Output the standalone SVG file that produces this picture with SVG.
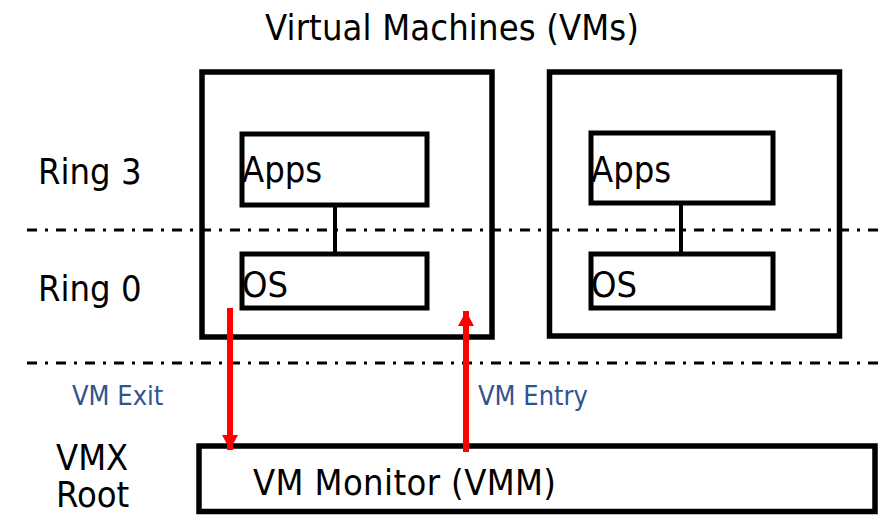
<svg xmlns="http://www.w3.org/2000/svg" width="879" height="515" viewBox="0 0 879 515">
  <style>
    .box { fill: #ffffff; stroke: #000000; stroke-width: 5.5; }
    .inner { fill: #ffffff; stroke: #000000; stroke-width: 5; }
    .ring { fill: none; stroke: #000000; stroke-width: 3; stroke-dasharray: 10 8 3 8; }
    .link { stroke: #000000; stroke-width: 4; }
    .flow { stroke: #ff0000; stroke-width: 6; fill: none; }
    .t { font-family: "DejaVu Sans Condensed", "DejaVu Sans", sans-serif; font-size: 36px; fill: #000000; }
    .lbl { font-family: "DejaVu Sans Condensed", "DejaVu Sans", sans-serif; font-size: 27px; fill: #2f5491; }
  </style>
  <defs>
    <marker id="redHead" markerUnits="userSpaceOnUse" markerWidth="16" markerHeight="16" refX="15" refY="8" orient="auto">
      <path d="M0,0 L15,8 L0,16 Z" fill="#ff0000"/>
    </marker>
  </defs>
  <rect width="879" height="515" fill="#ffffff"/>

  <text class="t" x="265" y="40" textLength="374">Virtual Machines (VMs)</text>

  <!-- privilege level labels -->
  <text class="t" x="38" y="184">Ring 3</text>
  <text class="t" x="38" y="301">Ring 0</text>
  <text class="t" x="56" y="470">VMX</text>
  <text class="t" x="56" y="507">Root</text>

  <!-- first virtual machine -->
  <g id="vm1">
    <rect class="box" x="202" y="72" width="290" height="265"/>
    <line class="link" x1="335" y1="205" x2="335" y2="254"/>
    <g id="vm1-apps">
      <rect class="inner" x="242" y="134" width="185" height="71"/>
      <text class="t" x="242" y="182">Apps</text>
    </g>
    <g id="vm1-os">
      <rect class="inner" x="242" y="254" width="185" height="54"/>
      <text class="t" x="242" y="297">OS</text>
    </g>
  </g>

  <!-- second virtual machine -->
  <g id="vm2">
    <rect class="box" x="549.5" y="72" width="290" height="264"/>
    <line class="link" x1="681" y1="203" x2="681" y2="254"/>
    <g id="vm2-apps">
      <rect class="inner" x="591" y="133" width="182" height="70"/>
      <text class="t" x="591" y="182">Apps</text>
    </g>
    <g id="vm2-os">
      <rect class="inner" x="591" y="254" width="182" height="54"/>
      <text class="t" x="591" y="297">OS</text>
    </g>
  </g>

  <!-- ring boundaries, drawn across the VM boxes -->
  <g id="ring-boundaries">
    <line class="ring" x1="27" y1="230" x2="879" y2="230"/>
    <line class="ring" x1="27" y1="363" x2="879" y2="363"/>
  </g>

  <!-- hypervisor -->
  <g id="vmm">
    <rect class="box" x="199" y="446" width="676" height="65.5"/>
    <text class="t" x="253" y="495" textLength="303">VM Monitor (VMM)</text>
  </g>

  <!-- transitions between guest and monitor -->
  <g id="connectors">
    <line class="flow" x1="230" y1="308" x2="230" y2="450" marker-end="url(#redHead)"/>
    <line class="flow" x1="466" y1="452" x2="466" y2="311" marker-end="url(#redHead)"/>
    <text class="lbl" x="72" y="405">VM Exit</text>
    <text class="lbl" x="478" y="405">VM Entry</text>
  </g>
</svg>
